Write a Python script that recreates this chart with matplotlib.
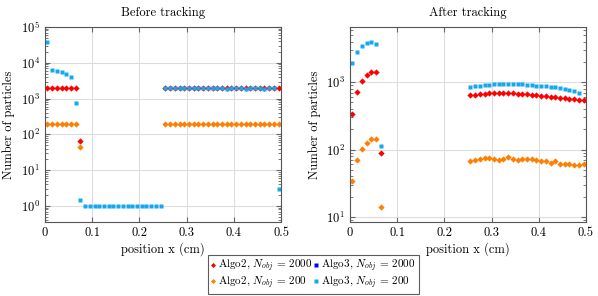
import numpy as np
import matplotlib
matplotlib.use('Agg')
import matplotlib.pyplot as plt
from matplotlib.ticker import LogLocator, NullFormatter

plt.rcParams['font.family'] = 'serif'
plt.rcParams['font.serif'] = ['cmr10', 'DejaVu Serif']
plt.rcParams['mathtext.fontset'] = 'cm'
plt.rcParams['axes.formatter.use_mathtext'] = True
plt.rcParams['font.size'] = 9

# bin centres (cm)
x = [0.005 + 0.01 * i for i in range(50)]

# ---- before tracking ----
before_x_a2 = x[:8] + x[25:]
before_a2_2000 = [2000] * 7 + [65] + [2000] * 25
before_a2_200 = [200] * 7 + [45] + [200] * 25
before_x_a3 = x
before_a3_200 = ([37000, 6200, 5800, 5400, 4900, 4000, 750, 1.5]
                 + [1] * 17
                 + [2000, 2000, 2000, 2000, 2000, 2000, 2000, 2000, 2000, 2000,
                    2000, 2000, 2000, 1850, 1950, 2000, 2000, 1900, 2000, 2000,
                    2000, 1900, 2000, 1950, 3])

# ---- after tracking ----
after_x = x[:7] + x[25:]
after_a2_2000 = [340, 716, 1045, 1260, 1430, 1430, 90,
                 640, 655, 665, 675, 690, 695, 695, 690, 690, 685, 675, 670,
                 660, 650, 635, 625, 615, 610, 600, 590, 580, 570, 560, 550, 545]
after_a2_200 = [34.5, 70, 103, 126, 141, 141, 14,
                67, 70, 72, 75, 76, 72, 71, 72, 78, 73, 70, 73, 73, 73, 70,
                67, 68, 63, 68, 61, 61, 61, 59, 58, 61]
after_a3_200 = [1900, 2800, 3450, 3800, 3900, 3650, 114,
                842, 870, 890, 905, 915, 925, 930, 935, 945, 940, 935, 925,
                915, 905, 890, 880, 865, 850, 835, 815, 790, 760, 730, 690]

red = '#ff0000'
orange = '#ff8000'
blue = '#0000ff'
cyan = '#14a8f0'
ms_d = 3.2
ms_s = 3.0

fig = plt.figure(figsize=(5.98, 2.96), dpi=100)
ax1 = fig.add_axes([45 / 598, 1 - 222 / 296, 236 / 598, 195 / 296])
ax2 = fig.add_axes([350 / 598, 1 - 222 / 296, 236 / 598, 195 / 296])


def style(ax, title):
    ax.set_yscale('log')
    ax.set_xlim(0, 0.5)
    ax.set_xticks([0, 0.1, 0.2, 0.3, 0.4, 0.5])
    ax.set_xticklabels(['0', '0.1', '0.2', '0.3', '0.4', '0.5'])
    ax.grid(True, which='major', color='#dddddd', linewidth=0.8)
    ax.set_axisbelow(True)
    ax.tick_params(which='both', direction='in', top=True, right=True,
                   color='#666666', labelsize=9)
    ax.yaxis.set_minor_locator(LogLocator(base=10, subs=np.arange(2, 10)))
    ax.yaxis.set_minor_formatter(NullFormatter())
    for s in ax.spines.values():
        s.set_color('#555555')
        s.set_linewidth(0.8)
    ax.set_title(title, fontsize=9, pad=8)
    ax.set_xlabel('position x (cm)', fontsize=9, labelpad=2.5)
    ax.set_ylabel('Number of particles', fontsize=9)


ax1.plot(before_x_a2, before_a2_2000, 'D', color=red, ms=ms_d, mec='none',
         label=r'Algo2, $N_{obj}$ = 2000')
ax1.plot(before_x_a2, before_a2_200, 'D', color=orange, ms=ms_d, mec='none',
         label=r'Algo2, $N_{obj}$ = 200')
ax1.plot([], [], 's', color=blue, ms=ms_s, mec='none',
         label=r'Algo3, $N_{obj}$ = 2000')
ax1.plot(before_x_a3, before_a3_200, 's', color=cyan, ms=ms_s, mec='none',
         label=r'Algo3, $N_{obj}$ = 200')
ax1.set_ylim(0.357, 1e5)
style(ax1, 'Before tracking')

ax2.plot(after_x, after_a2_2000, 'D', color=red, ms=ms_d, mec='none')
ax2.plot(after_x, after_a2_200, 'D', color=orange, ms=ms_d, mec='none')
ax2.plot(x[:7] + x[25:-1], after_a3_200, 's', color=cyan, ms=ms_s, mec='none')
ax2.set_ylim(8.4, 6600)
style(ax2, 'After tracking')

handles, labels = ax1.get_legend_handles_labels()
leg = fig.legend(handles, labels, ncol=2, loc='center',
                 bbox_to_anchor=(313.5 / 598, 1 - 274.5 / 296), fontsize=8,
                 frameon=True, fancybox=False, edgecolor='#333333',
                 handlelength=0.4, handletextpad=0.25, columnspacing=0.1,
                 labelspacing=0.02, borderpad=0.25, borderaxespad=0,
                 markerscale=0.8)
leg.get_frame().set_linewidth(0.8)

fig.savefig('out.png', dpi=100)
